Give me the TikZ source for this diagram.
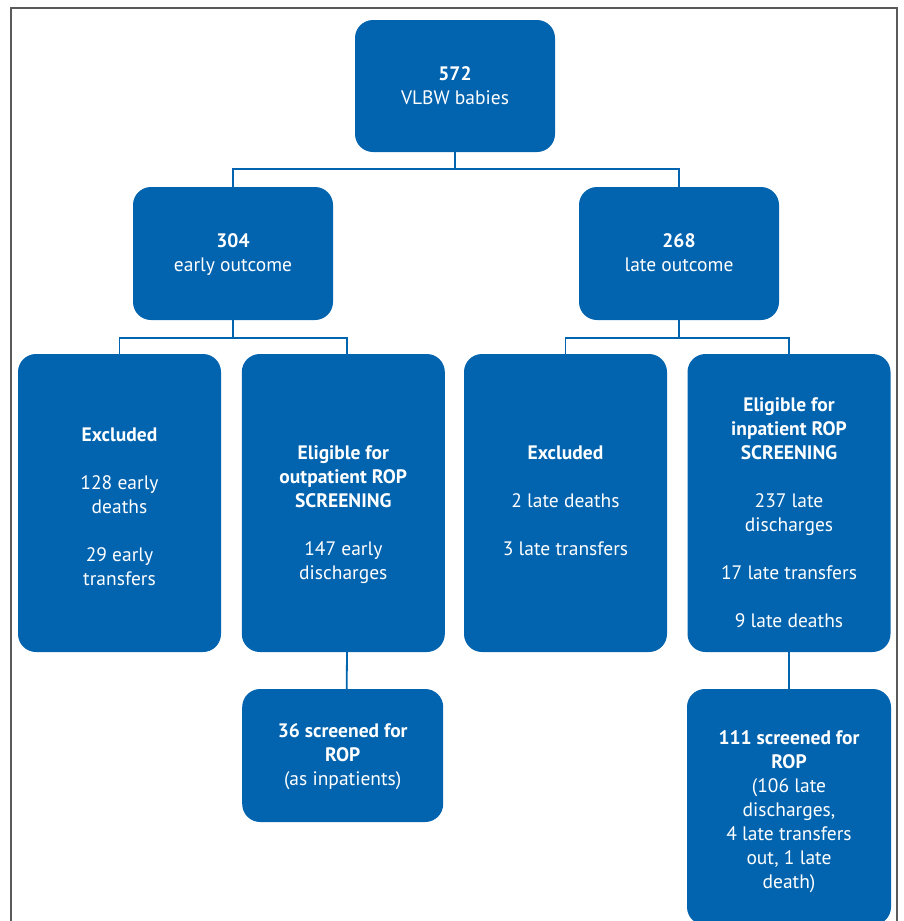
\documentclass[tikz,border=0pt]{standalone}
\usepackage{fontspec}
\setmainfont{PT Sans}
\usetikzlibrary{positioning}
\definecolor{flowblue}{RGB}{2,99,174}
\definecolor{framegray}{RGB}{90,90,90}
\tikzset{
    box/.style={draw=none, fill=flowblue, rounded corners=18pt, inner sep=0pt},
    boxtext/.style={text=white, align=center, inner sep=0pt,
        font=\fontsize{19.5}{24}\selectfont},
    link/.style={draw=flowblue, line width=1.8pt},
}
\begin{document}
\begin{tikzpicture}[x=1pt, y=-1pt]
    \useasboundingbox (0,0) rectangle (903,921);
    \clip (0,0) rectangle (903,921);
    \draw[framegray, line width=2pt] (11,930) -- (11,8) -- (897,8) -- (897,930);
    % boxes
    \node[box, minimum width=200pt, minimum height=132pt,
        label={[boxtext]center:{\textbf{572}\\VLBW babies}}] (top) at (455,86) {};
    \node[box, minimum width=200pt, minimum height=133pt,
        label={[boxtext, yshift=-1pt]center:{\textbf{304}\\early outcome}}] (early) at (233,253.5) {};
    \node[box, minimum width=200pt, minimum height=133pt,
        label={[boxtext, yshift=1pt]center:{\textbf{268}\\late outcome}}] (late) at (679,253.5) {};
    \node[box, minimum width=203pt, minimum height=298pt,
        label={[boxtext, yshift=-4pt]center:{\textbf{Excluded}\\[24pt]128 early\\deaths\\[24pt]29 early\\transfers}}] (exclA) at (119.5,503) {};
    \node[box, minimum width=203pt, minimum height=298pt,
        label={[boxtext, yshift=-12pt]center:{\textbf{Eligible for}\\\textbf{outpatient ROP}\\\textbf{SCREENING}\\[24pt]147 early\\discharges}}] (outpt) at (343.3,503) {};
    \node[box, minimum width=203pt, minimum height=298pt,
        label={[boxtext, yshift=2pt]center:{\textbf{Excluded}\\[24pt]2 late deaths\\[24pt]3 late transfers}}] (exclB) at (565.5,503) {};
    \node[box, minimum width=203pt, minimum height=298pt,
        label={[boxtext, yshift=-10pt]center:{\textbf{Eligible for}\\\textbf{inpatient ROP}\\\textbf{SCREENING}\\[24pt]237 late\\discharges\\[24pt]17 late transfers\\[24pt]9 late deaths}}] (inpt) at (789,503) {};
    \node[box, minimum width=201pt, minimum height=133pt,
        label={[boxtext, yshift=-1pt]center:{\textbf{36 screened for}\\\textbf{ROP}\\(as inpatients)}}] (scrA) at (342.7,755.5) {};
    \node[box, minimum width=204pt, minimum height=236pt,
        label={[boxtext, yshift=-5pt]center:{\textbf{111 screened for}\\\textbf{ROP}\\(106 late\\discharges,\\4 late transfers\\out, 1 late\\death)}}] (scrB) at (789,807) {};
    % connectors
    \draw[link] (top.south) -- ++(0,17) -| (early.north);
    \draw[link] (top.south) -- ++(0,17) -| (late.north);
    \draw[link] (early.south) -- ++(0,18) -| (exclA.north);
    \draw[link] (early.south) -- ++(0,18) -| ([xshift=3.7pt]outpt.north);
    \draw[link] (late.south) -- ++(0,18) -| (exclB.north);
    \draw[link] (late.south) -- ++(0,18) -| (inpt.north);
    \draw[link] ([xshift=3.7pt]outpt.south) -- ([xshift=4pt]scrA.north);
    \draw[link] (inpt.south) -- (scrB.north);
\end{tikzpicture}
\end{document}
